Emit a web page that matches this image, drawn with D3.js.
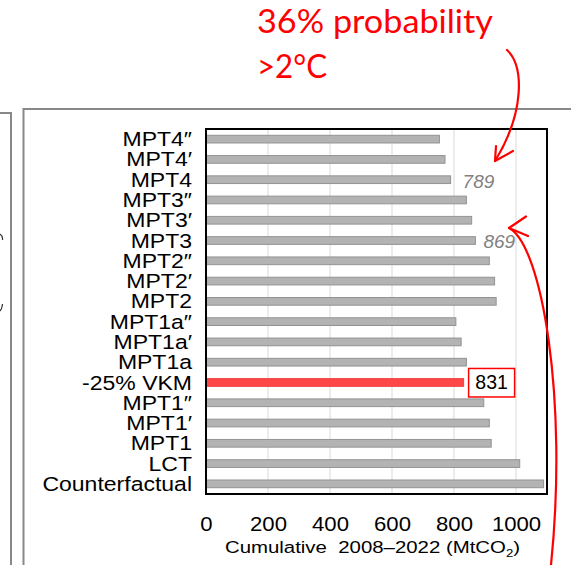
<!DOCTYPE html>
<html>
<head>
<meta charset="utf-8">
<script src="https://cdn.jsdelivr.net/npm/d3@7"></script>
<style>
  body { margin: 0; background: #fff; }
  svg { display: block; }
</style>
</head>
<body>
<div id="chart"></div>
<script>
// Cumulative CO2 emissions 2008–2022 by scenario

const categories = ['MPT4″', 'MPT4′', 'MPT4', 'MPT3″', 'MPT3′', 'MPT3', 'MPT2″', 'MPT2′', 'MPT2',
    'MPT1a″', 'MPT1a′', 'MPT1a', '-25% VKM', 'MPT1″', 'MPT1′', 'MPT1', 'LCT', 'Counterfactual'];
const values = [753, 771, 789, 840, 857, 869, 914, 931, 936,
    806, 823, 840, 831, 896, 914, 920, 1012, 1089];
const xTicks = [0, 200, 400, 600, 800, 1000];
const highlight = '-25% VKM';
const italicLabels = ['MPT4', 'MPT3'];   // value shown in grey italics
const annotationLines = ['36% probability', '>2°C'];

const W = 571, H = 565;
const frame = { left: 206, right: 547, top: 129, bottom: 494 };
const stretch = 'scale(1.18,1)';   // source image is slightly stretched horizontally

const svg = d3.select('#chart').append('svg')
    .attr('width', W)
    .attr('height', H);

// Panel borders (remains of the slide layout)
svg.append('path')
    .attr('d', `M0,113H11V${H}`)
    .attr('fill', 'none')
    .attr('stroke', '#888')
    .attr('stroke-width', 2);
svg.append('path')
    .attr('d', `M23.5,${H}V109H${W}`)
    .attr('fill', 'none')
    .attr('stroke', '#888')
    .attr('stroke-width', 2);
svg.append('path')
    .attr('d', 'M0,234 Q3,236 2.5,240')
    .attr('fill', 'none').attr('stroke', '#333').attr('stroke-width', 1.2);
svg.append('path')
    .attr('d', 'M2.5,304 Q2,309 0,311')
    .attr('fill', 'none').attr('stroke', '#333').attr('stroke-width', 1.2);

// Scales
const x = d3.scaleLinear()
    .domain([0, 1100])
    .range([frame.left, frame.right]);

const y = d3.scaleBand()
    .domain(categories)
    .range([frame.top, frame.bottom])
    .paddingInner(0.62)
    .paddingOuter(0.31);

// Gridlines
svg.append('g')
    .selectAll('line')
    .data(xTicks.slice(1))
    .enter()
    .append('line')
    .attr('x1', d => x(d))
    .attr('x2', d => x(d))
    .attr('y1', frame.top)
    .attr('y2', frame.bottom)
    .attr('stroke', '#d9d9d9')
    .attr('stroke-width', 1);

// Bars
svg.append('g')
    .selectAll('rect')
    .data(categories)
    .enter()
    .append('rect')
    .attr('x', x(0))
    .attr('y', d => y(d))
    .attr('width', (d, i) => x(values[i]) - x(0))
    .attr('height', y.bandwidth())
    .attr('fill', d => d === highlight ? '#ff4747' : '#b3b3b3')
    .attr('stroke', d => d === highlight ? '#f04040' : '#939393')
    .attr('stroke-width', 1);

// Plot frame
svg.append('rect')
    .attr('x', frame.left)
    .attr('y', frame.top)
    .attr('width', frame.right - frame.left)
    .attr('height', frame.bottom - frame.top)
    .attr('fill', 'none')
    .attr('stroke', '#000')
    .attr('stroke-width', 2);

// Category axis
const yAxis = svg.append('g')
    .attr('transform', 'translate(192,0)')
    .call(d3.axisLeft(y).tickSize(0).tickPadding(0));
yAxis.select('.domain').remove();
yAxis.selectAll('text')
    .attr('dy', '0.36em')
    .attr('transform', stretch)
    .style('font-family', '"Liberation Sans", Arial, sans-serif')
    .style('font-size', '19.5px')
    .style('fill', '#000');

// Value axis
const xAxis = svg.append('g')
    .attr('transform', `translate(0,${frame.bottom})`)
    .call(d3.axisBottom(x).tickValues(xTicks).tickFormat(d3.format('d')).tickSize(0).tickPadding(22));
xAxis.select('.domain').remove();
xAxis.selectAll('text')
    .attr('transform', 'scale(1.08,1)')
    .style('font-family', '"Liberation Sans", Arial, sans-serif')
    .style('font-size', '20.5px')
    .style('fill', '#000');

const title = svg.append('text')
    .attr('transform', `translate(${(frame.left + frame.right) / 2 - 4},553) scale(1.2,1)`)
    .attr('text-anchor', 'middle')
    .style('font-family', '"Liberation Sans", Arial, sans-serif')
    .style('font-size', '17px')
    .style('fill', '#000');
title.append('tspan').text('Cumulative\u00a0 2008–2022 (MtCO');
title.append('tspan').attr('dy', 4).style('font-size', '11px').text('2');
title.append('tspan').attr('dy', -4).text(')');

// Grey italic value labels
svg.append('g')
    .selectAll('text')
    .data(italicLabels)
    .enter()
    .append('text')
    .attr('x', d => x(values[categories.indexOf(d)]) + (d === 'MPT4' ? 12 : 8))
    .attr('y', d => y(d) + y.bandwidth() / 2 + (d === 'MPT4' ? 8 : 7))
    .style('font-family', '"Liberation Sans", Arial, sans-serif')
    .style('font-style', 'italic')
    .style('font-size', '19px')
    .style('fill', '#808080')
    .text(d => values[categories.indexOf(d)]);

// Boxed value for the highlighted scenario
const hv = values[categories.indexOf(highlight)];
const hy = y(highlight) + y.bandwidth() / 2;
svg.append('rect')
    .attr('x', x(hv) + 5)
    .attr('y', hy - 14)
    .attr('width', 46)
    .attr('height', 28.5)
    .attr('fill', '#fff')
    .attr('stroke', '#ff0000')
    .attr('stroke-width', 1.5);
svg.append('text')
    .attr('x', x(hv) + 28)
    .attr('y', hy + 7)
    .attr('text-anchor', 'middle')
    .style('font-family', '"Liberation Sans", Arial, sans-serif')
    .style('font-size', '19.5px')
    .style('fill', '#000')
    .text(hv);

// Red annotation
svg.append('g')
    .selectAll('text')
    .data(annotationLines)
    .enter()
    .append('text')
    .attr('x', 257)
    .attr('y', (d, i) => 33 + i * 45)
    .style('font-family', 'Lato, "Open Sans", sans-serif')
    .style('font-size', '32px')
    .style('fill', '#ff0000')
    .attr('textLength', (d, i) => i === 0 ? 236 : 70)
    .attr('lengthAdjust', 'spacingAndGlyphs')
    .text(d => d);

const arrowStyle = sel => sel
    .attr('fill', 'none')
    .attr('stroke', '#ff0000')
    .attr('stroke-width', 2.2)
    .attr('stroke-linecap', 'round')
    .attr('stroke-linejoin', 'round');

svg.append('path')
    .attr('d', 'M507,50 C524,66 525,112 495,161')
    .call(arrowStyle);
svg.append('path')
    .attr('d', 'M496,146 L495,161 L513,151')
    .call(arrowStyle);

svg.append('path')
    .attr('d', 'M509,228 C542,245 568,400 551,565')
    .call(arrowStyle);
svg.append('path')
    .attr('d', 'M526,216.5 L509,228 L528,236')
    .call(arrowStyle);
</script>
</body>
</html>
